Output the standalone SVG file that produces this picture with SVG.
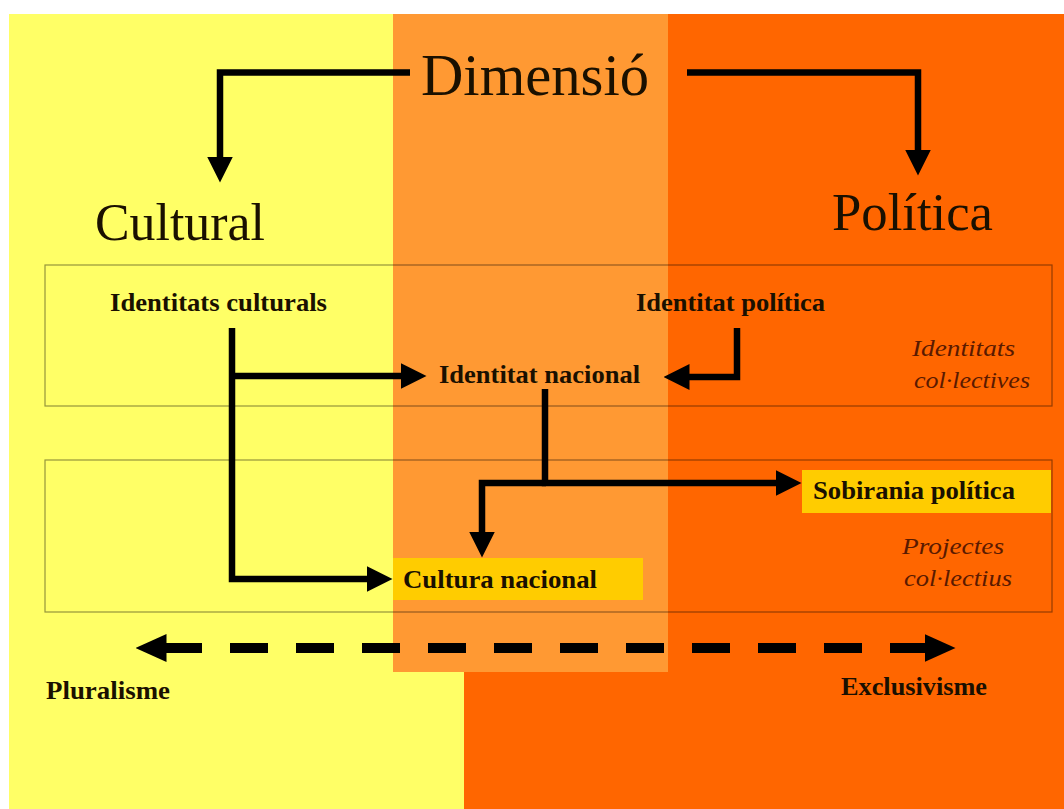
<svg xmlns="http://www.w3.org/2000/svg" width="1064" height="809" viewBox="0 0 1064 809">
<style>
.t{font-family:"Liberation Serif","Times New Roman",serif;fill:#1a1000}
.big{font-size:53px}
.b{font-size:25px;font-weight:bold}
.i{font-size:24px;font-style:italic;fill:#5a1a00}
.frame{fill:none;stroke:#000;stroke-opacity:0.42;stroke-width:1.2}
.gold{fill:#FFCC00}
.c{fill:none;stroke:#000;stroke-width:6.5;stroke-linejoin:miter}
</style>
<defs>
<marker id="ah" viewBox="0 0 26 26" refX="0.5" refY="13" markerWidth="26" markerHeight="26" markerUnits="userSpaceOnUse" orient="auto">
<path d="M0,0 L26,13 L0,26 z" fill="#000"/>
</marker>
<marker id="dh" viewBox="0 0 31 28" refX="0.5" refY="14" markerWidth="31" markerHeight="28" markerUnits="userSpaceOnUse" orient="auto-start-reverse">
<path d="M0,0 L31,14 L0,28 z" fill="#000"/>
</marker>
</defs>
<g id="background">
<rect x="0" y="0" width="1064" height="809" fill="#ffffff"/>
<rect x="9" y="14" width="1055" height="795" fill="#FFFF66"/>
<rect x="393" y="14" width="275" height="658" fill="#FF9933"/>
<rect x="668" y="14" width="396" height="795" fill="#FF6600"/>
<rect x="464" y="672" width="204" height="137" fill="#FF6600"/>
</g>
<g id="frames">
<rect class="frame" x="45" y="265" width="1007" height="141"/>
<rect class="frame" x="45" y="460" width="1007" height="152"/>
</g>
<g id="node-dimensio"><text class="t" x="421" y="95" font-size="60" textLength="228" lengthAdjust="spacingAndGlyphs">Dimensió</text></g>
<g id="node-cultural"><text class="t big" x="95" y="240" textLength="170" lengthAdjust="spacingAndGlyphs">Cultural</text></g>
<g id="node-politica"><text class="t big" x="832" y="230" textLength="161" lengthAdjust="spacingAndGlyphs">Política</text></g>
<g id="node-identitats-culturals"><text class="t b" x="110" y="311" textLength="217" lengthAdjust="spacingAndGlyphs">Identitats culturals</text></g>
<g id="node-identitat-politica"><text class="t b" x="636" y="311" textLength="189" lengthAdjust="spacingAndGlyphs">Identitat política</text></g>
<g id="node-identitat-nacional"><text class="t b" x="439" y="383" textLength="201" lengthAdjust="spacingAndGlyphs">Identitat nacional</text></g>
<g id="node-identitats-collectives">
<text class="t i" x="912" y="356" textLength="103" lengthAdjust="spacingAndGlyphs">Identitats</text>
<text class="t i" x="914" y="388" textLength="116" lengthAdjust="spacingAndGlyphs">col·lectives</text>
</g>
<g id="node-sobirania">
<rect class="gold" x="802" y="470" width="249" height="43"/>
<text class="t b" x="813" y="499" textLength="202" lengthAdjust="spacingAndGlyphs">Sobirania política</text>
</g>
<g id="node-cultura-nacional">
<rect class="gold" x="393" y="558" width="250" height="42"/>
<text class="t b" x="403" y="588" textLength="194" lengthAdjust="spacingAndGlyphs">Cultura nacional</text>
</g>
<g id="node-projectes">
<text class="t i" x="902" y="554" textLength="102" lengthAdjust="spacingAndGlyphs">Projectes</text>
<text class="t i" x="904" y="586" textLength="108" lengthAdjust="spacingAndGlyphs">col·lectius</text>
</g>
<g id="node-pluralisme"><text class="t b" x="46" y="699" font-size="26" textLength="124" lengthAdjust="spacingAndGlyphs">Pluralisme</text></g>
<g id="node-exclusivisme"><text class="t b" x="841" y="695" font-size="26" textLength="146" lengthAdjust="spacingAndGlyphs">Exclusivisme</text></g>
<g id="connectors">
<path class="c" d="M410,72.5 H220 V157" marker-end="url(#ah)"/>
<path class="c" d="M687,72.5 H918 V150" marker-end="url(#ah)"/>
<path class="c" d="M232,328 V579 H367" marker-end="url(#ah)"/>
<path class="c" d="M232,376 H401" marker-end="url(#ah)"/>
<path class="c" d="M737,328 V377 H689" marker-end="url(#ah)"/>
<path class="c" d="M545,389 V483 H776" marker-end="url(#ah)"/>
<path class="c" d="M546,483 H482 V532" marker-end="url(#ah)"/>
<path fill="none" stroke="#000" stroke-width="10" stroke-dasharray="38 28" d="M164,648 H925"/>
<path fill="none" stroke="#000" stroke-width="10" stroke-opacity="0" d="M166,648 H925" marker-start="url(#dh)" marker-end="url(#dh)"/>
</g>
</svg>
